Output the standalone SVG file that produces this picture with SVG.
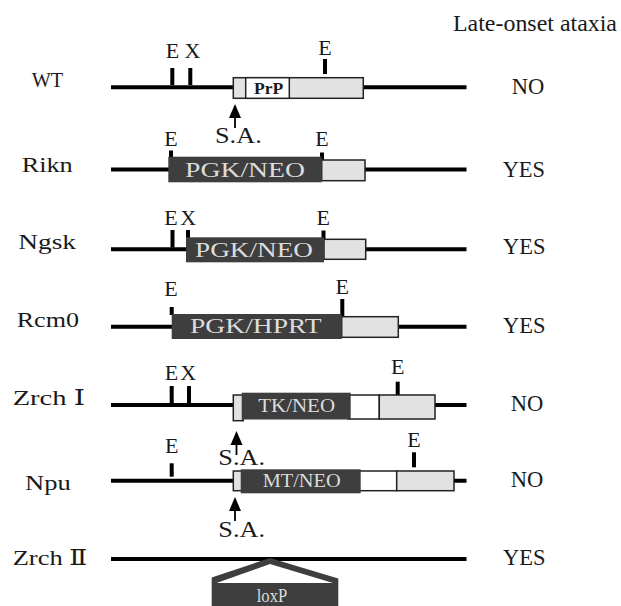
<svg xmlns="http://www.w3.org/2000/svg" width="621" height="606" viewBox="0 0 621 606">
  <style>
    .t { font-family: "Liberation Serif", "DejaVu Serif", "Noto Sans CJK JP", serif; fill: #1a1a1a; }
    .name { font-size: 21.5px; }
    .res { font-size: 23.5px; }
    .site { font-size: 22px; text-anchor: middle; }
    .inbox { font-family: "Liberation Serif", "DejaVu Serif", serif; fill: #dcdcdc; }
    .dna { stroke: #000; stroke-width: 4; fill: none; }
    .tick { fill: #000; }
    .dark { fill: #3e3e3e; }
    .gray { fill: #e2e2e2; stroke: #222; stroke-width: 1.5; }
    .white { fill: #fff; stroke: #222; stroke-width: 1.5; }
  </style>
  <defs>
    <!-- splice acceptor arrow, tip at origin -->
    <g id="sa-arrow">
      <polygon points="0,0 6,14 -6,14" fill="#000"/>
      <rect x="-0.9" y="12" width="1.8" height="12" fill="#000"/>
    </g>
  </defs>
  <rect width="621" height="606" fill="#fff"/>

  <text class="t" x="453" y="31" font-size="23" textLength="164" lengthAdjust="spacingAndGlyphs">Late-onset ataxia</text>

  <!-- DNA backbones -->
  <g id="connectors">
    <line class="dna" x1="111" y1="87.3" x2="466.5" y2="87.3"/>
    <line class="dna" x1="111" y1="169.5" x2="466.5" y2="169.5"/>
    <line class="dna" x1="111" y1="249.3" x2="466.5" y2="249.3"/>
    <line class="dna" x1="111" y1="326.7" x2="466.5" y2="326.7"/>
    <line class="dna" x1="111" y1="405" x2="466.5" y2="405"/>
    <line class="dna" x1="111" y1="480.7" x2="466.5" y2="480.7"/>
    <line class="dna" x1="111" y1="559" x2="466.5" y2="559"/>
  </g>

  <!-- WT -->
  <g id="wt">
    <text class="t name" x="31.7" y="87.3" textLength="31.6" lengthAdjust="spacingAndGlyphs">WT</text>
    <rect class="tick" x="170.3" y="68" width="4" height="17"/>
    <rect class="tick" x="188.3" y="68" width="4" height="17"/>
    <rect class="tick" x="323" y="59" width="4" height="15"/>
    <text class="t site" x="172.5" y="58.3">E</text>
    <text class="t site" x="192.5" y="58.3">X</text>
    <text class="t site" x="325" y="55">E</text>
    <rect class="gray" x="233.3" y="77.7" width="130" height="20.6"/>
    <rect class="white" x="245.7" y="77.7" width="43.6" height="20.6"/>
    <text class="t" x="254" y="94" font-size="17" font-weight="bold" textLength="29.3" lengthAdjust="spacingAndGlyphs">PrP</text>
    <use href="#sa-arrow" x="235" y="104"/>
    <text class="t" x="215" y="143.3" font-size="22.5" textLength="46.7" lengthAdjust="spacingAndGlyphs">S.A.</text>
    <text class="t res" x="511.7" y="94" textLength="32.6" lengthAdjust="spacingAndGlyphs">NO</text>
  </g>

  <!-- Rikn -->
  <g id="rikn">
    <text class="t name" x="21.7" y="171.7" textLength="51" lengthAdjust="spacingAndGlyphs">Rikn</text>
    <rect class="tick" x="169" y="150.5" width="4" height="7"/>
    <rect class="tick" x="320" y="152.5" width="4" height="8"/>
    <text class="t site" x="171" y="146">E</text>
    <text class="t site" x="322" y="146">E</text>
    <rect class="gray" x="321.7" y="160" width="43.3" height="20.7"/>
    <rect class="dark" x="168.3" y="156.7" width="153.4" height="25.6"/>
    <text class="inbox" x="185" y="177.3" font-size="22" textLength="120" lengthAdjust="spacingAndGlyphs">PGK/NEO</text>
    <text class="t res" x="502.7" y="176.7" textLength="42.3" lengthAdjust="spacingAndGlyphs">YES</text>
  </g>

  <!-- Ngsk -->
  <g id="ngsk">
    <text class="t name" x="18.3" y="249.3" textLength="57.7" lengthAdjust="spacingAndGlyphs">Ngsk</text>
    <rect class="tick" x="170.5" y="230" width="4" height="17.5"/>
    <rect class="tick" x="186" y="230" width="4" height="8"/>
    <rect class="tick" x="321.5" y="230.5" width="4" height="9"/>
    <text class="t site" x="171" y="225">E</text>
    <text class="t site" x="188.3" y="225">X</text>
    <text class="t site" x="323.3" y="225">E</text>
    <rect class="gray" x="324" y="239.3" width="41.7" height="20"/>
    <rect class="dark" x="186" y="237.3" width="138" height="25"/>
    <text class="inbox" x="195" y="256.7" font-size="22" textLength="118" lengthAdjust="spacingAndGlyphs">PGK/NEO</text>
    <text class="t res" x="503" y="254" textLength="42.5" lengthAdjust="spacingAndGlyphs">YES</text>
  </g>

  <!-- Rcm0 -->
  <g id="rcm0">
    <text class="t name" x="16.7" y="326.7" textLength="62.3" lengthAdjust="spacingAndGlyphs">Rcm0</text>
    <rect class="tick" x="169.7" y="307" width="4" height="8"/>
    <rect class="tick" x="340.3" y="299" width="4" height="18"/>
    <text class="t site" x="171" y="296">E</text>
    <text class="t site" x="342.3" y="294">E</text>
    <rect class="gray" x="341.7" y="316.7" width="56.6" height="20.6"/>
    <rect class="dark" x="171.7" y="314" width="170" height="25"/>
    <text class="inbox" x="190" y="333.3" font-size="22" textLength="131.7" lengthAdjust="spacingAndGlyphs">PGK/HPRT</text>
    <text class="t res" x="503" y="333" textLength="42.5" lengthAdjust="spacingAndGlyphs">YES</text>
  </g>

  <!-- Zrch I -->
  <g id="zrch1">
    <text class="t name" x="12.7" y="405" textLength="72.3" lengthAdjust="spacingAndGlyphs">Zrch Ⅰ</text>
    <rect class="tick" x="169.7" y="386" width="4" height="17"/>
    <rect class="tick" x="187" y="386" width="4" height="17"/>
    <rect class="tick" x="395.7" y="381.7" width="4" height="13.5"/>
    <text class="t site" x="171.5" y="380">E</text>
    <text class="t site" x="188.3" y="380">X</text>
    <text class="t site" x="397.7" y="374">E</text>
    <rect class="gray" x="233.3" y="395" width="10" height="25.7"/>
    <rect class="white" x="348" y="395" width="31.3" height="24"/>
    <rect class="gray" x="379.3" y="395" width="55.7" height="24"/>
    <rect class="dark" x="241.7" y="392.7" width="109" height="26.8"/>
    <text class="inbox" x="258.3" y="411.7" font-size="18" textLength="76.7" lengthAdjust="spacingAndGlyphs">TK/NEO</text>
    <use href="#sa-arrow" x="236.5" y="431"/>
    <text class="t" x="218.3" y="465" font-size="22.5" textLength="46.7" lengthAdjust="spacingAndGlyphs">S.A.</text>
    <text class="t res" x="510.7" y="410.7" textLength="32.6" lengthAdjust="spacingAndGlyphs">NO</text>
  </g>

  <!-- Npu -->
  <g id="npu">
    <text class="t name" x="25" y="489.5" textLength="45.7" lengthAdjust="spacingAndGlyphs">Npu</text>
    <rect class="tick" x="169.7" y="463.3" width="4" height="13.4"/>
    <rect class="tick" x="412" y="452.3" width="4" height="15"/>
    <text class="t site" x="171.7" y="452.7">E</text>
    <text class="t site" x="414" y="446.7">E</text>
    <rect class="gray" x="233.3" y="471" width="10" height="19.7"/>
    <rect class="white" x="358" y="471" width="38.7" height="19.7"/>
    <rect class="gray" x="396.7" y="471" width="57.3" height="19.7"/>
    <rect class="dark" x="240.7" y="469.3" width="120" height="24"/>
    <text class="inbox" x="262.7" y="486.7" font-size="18" textLength="78" lengthAdjust="spacingAndGlyphs">MT/NEO</text>
    <use href="#sa-arrow" x="235" y="497"/>
    <text class="t" x="218.3" y="536.7" font-size="22.5" textLength="46.7" lengthAdjust="spacingAndGlyphs">S.A.</text>
    <text class="t res" x="510.7" y="487.3" textLength="32.6" lengthAdjust="spacingAndGlyphs">NO</text>
  </g>

  <!-- Zrch II -->
  <g id="zrch2">
    <text class="t name" x="12.7" y="565" textLength="74.6" lengthAdjust="spacingAndGlyphs">Zrch Ⅱ</text>
    <polygon class="dark" points="270,558 338.3,578.5 338.3,606 211.7,606 211.7,577.5"/>
    <polygon points="270,564 333,583 216.5,583" fill="#fff"/>
    <text class="inbox" x="256.7" y="601.7" font-size="18" textLength="30.6" lengthAdjust="spacingAndGlyphs">loxP</text>
    <text class="t res" x="503" y="565" textLength="42.5" lengthAdjust="spacingAndGlyphs">YES</text>
  </g>
</svg>
